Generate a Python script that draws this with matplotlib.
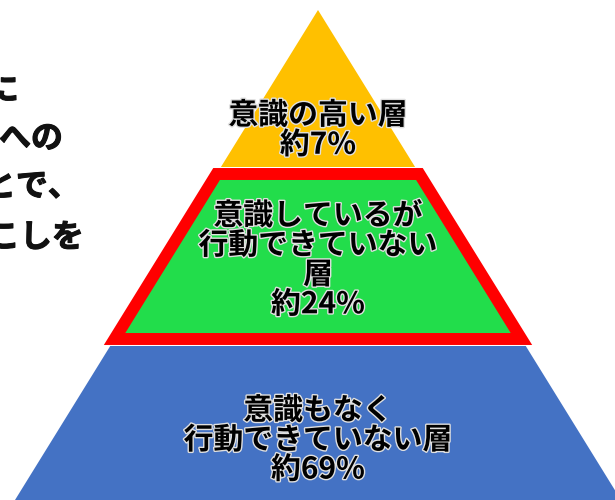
import matplotlib.pyplot as plt
import matplotlib.patheffects as pe
from matplotlib.patches import Polygon

plt.rcParams['font.family'] = ['Noto Sans CJK JP', 'DejaVu Sans']

# layers of the pyramid, top to bottom
labels = ["意識の高い層\n約7%",
          "意識しているが\n行動できていない\n層\n約24%",
          "意識もなく\n行動できていない層\n約69%"]
colors = ["#FFC000", "#22DD4B", "#4472C4"]
# vertical extent of each layer (pixels from top)
tops = [10, 174, 346]
bottoms = [167, 339, 520]
text_y = [130, 260, 440]

# cut-off text on the left side
side_lines = ["に", "への", "とで、", "こしを"]
side_x = [19, 63, 80, 84]
side_y = [91, 139, 187, 238]

apex_x, apex_y = 318, 10
slope = 303 / 490  # half width per pixel down

def half(y):
    return (y - apex_y) * slope

fig = plt.figure(figsize=(6.15, 5), dpi=100)
ax = fig.add_axes([0, 0, 1, 1])
ax.set_xlim(0, 615)
ax.set_ylim(500, 0)
ax.axis('off')

for i in range(3):
    t, b = tops[i], bottoms[i]
    pts = [(apex_x - half(t), t), (apex_x + half(t), t),
           (apex_x + half(b), b), (apex_x - half(b), b)]
    if i == 1:
        poly = Polygon(pts, closed=True, facecolor=colors[i], edgecolor='#FF0000',
                       linewidth=8.6, joinstyle='miter', zorder=3)
    else:
        poly = Polygon(pts, closed=True, facecolor=colors[i], edgecolor='none', zorder=2)
    ax.add_patch(poly)
    ax.text(apex_x, text_y[i], labels[i], ha='center', va='center', fontsize=21.5,
            fontweight='bold', color='black', linespacing=0.98, zorder=5,
            path_effects=[pe.withStroke(linewidth=2, foreground='#e0e0e0')])

for s, x, y in zip(side_lines, side_x, side_y):
    ax.text(x, y, s, ha='right', va='center', fontsize=23, fontweight='bold',
            color='#111111', zorder=5,
            path_effects=[pe.withStroke(linewidth=0.8, foreground='#111111')])

fig.savefig("out.png", dpi=100)
